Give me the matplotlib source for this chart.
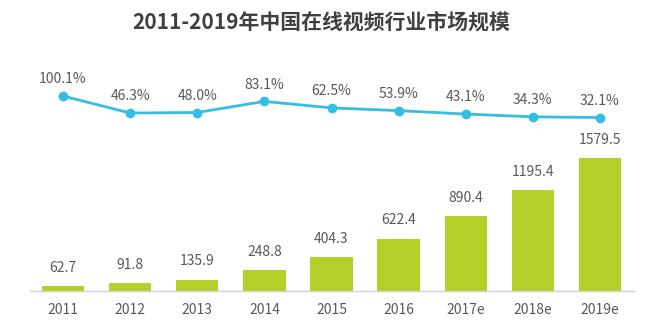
import matplotlib
matplotlib.use("Agg")
import matplotlib.pyplot as plt

plt.rcParams['font.family'] = ['Noto Sans CJK SC', 'DejaVu Sans']

years = ['2011', '2012', '2013', '2014', '2015', '2016', '2017e', '2018e', '2019e']
market_size = [62.7, 91.8, 135.9, 248.8, 404.3, 622.4, 890.4, 1195.4, 1579.5]
growth_rate = [100.1, 46.3, 48.0, 83.1, 62.5, 53.9, 43.1, 34.3, 32.1]

BAR_COLOR = '#b4d12a'
LINE_COLOR = '#35bde3'
TEXT_COLOR = '#595959'

fig = plt.figure(figsize=(6.6, 3.26), dpi=100)
W, H = 660, 326
left, right = 29.5 / W, 633.5 / W
bottom, top = (H - 291) / H, (H - 50) / H
ax = fig.add_axes([left, bottom, right - left, top - bottom])

x = list(range(len(years)))
ax.bar(x, market_size, width=0.63, color=BAR_COLOR, zorder=2)
ax.set_xlim(-0.5, 8.5)
ax.set_ylim(0, 2863)
for xi, v in zip(x, market_size):
    ax.annotate(f'{v:.1f}', (xi, v), xytext=(0, 8), textcoords='offset points',
                ha='center', va='bottom', fontsize=10, color=TEXT_COLOR)

for s in ['top', 'right', 'left']:
    ax.spines[s].set_visible(False)
ax.spines['bottom'].set_color('#d0d0d8')
ax.spines['bottom'].set_linewidth(1.0)
ax.set_yticks([])
ax.set_xticks(x)
ax.set_xticklabels(years, fontsize=10, color=TEXT_COLOR)
ax.tick_params(axis='x', length=0, pad=9)

# growth rate line on its own scale
ax2 = ax.twinx()
ax2.set_ylim(-516, 245.5)
ax2.plot(x, growth_rate, color=LINE_COLOR, lw=2, marker='o', ms=6, zorder=3)
for xi, v in zip(x, growth_rate):
    ax2.annotate(f'{v:.1f}%', (xi, v), xytext=(0, 7), textcoords='offset points',
                 ha='center', va='bottom', fontsize=10, color=TEXT_COLOR)
ax2.axis('off')

fig.text(0.487, 1 - 22 / H, '2011-2019年中国在线视频行业市场规模', ha='center', va='center',
         fontsize=15, fontweight='bold', color='#404040')

fig.savefig('out.png', dpi=100, facecolor='white')
